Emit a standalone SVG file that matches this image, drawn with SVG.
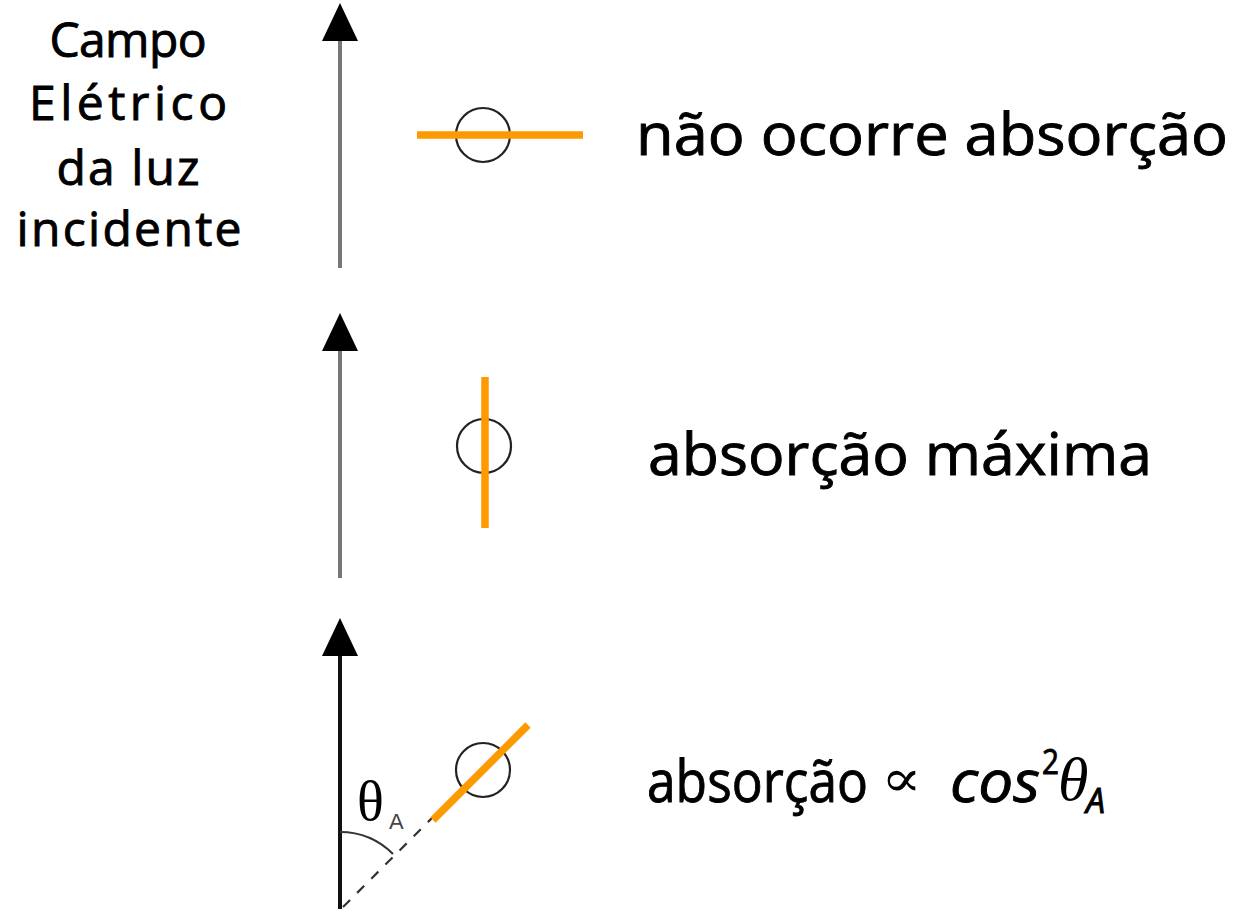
<svg xmlns="http://www.w3.org/2000/svg" xmlns:xlink="http://www.w3.org/1999/xlink" width="1237" height="912" viewBox="0 0 1237 912">
  <style>
    .lbl { font-family: "Open Sans", "DejaVu Sans", sans-serif; fill: #000; stroke: #000; stroke-width: 0.9; }
    .side { font-size: 48px; text-anchor: middle; }
    .big { font-size: 58px; }
    .math { font-family: "Liberation Serif", serif; fill: #000; }
    .shaft { stroke: #777; stroke-width: 4; fill: none; }
    .ring { fill: none; stroke: #222; stroke-width: 2.2; }
    .dipole { stroke: #FF9900; stroke-width: 7.5; stroke-linecap: butt; fill: none; }
    .guide { stroke: #333; stroke-width: 2.2; fill: none; }
  </style>
  <defs>
    <polygon id="head" points="0,0 -18,38 18,38" fill="#000"/>
  </defs>
  <rect width="1237" height="912" fill="#fff"/>

  <!-- caption for the field arrows -->
  <g id="field-caption">
    <text class="lbl side" x="128" y="57" textLength="157">Campo</text>
    <text class="lbl side" x="128" y="120" textLength="198">Elétrico</text>
    <text class="lbl side" x="128" y="185" textLength="143">da luz</text>
    <text class="lbl side" x="129" y="246" textLength="225">incidente</text>
  </g>

  <!-- field arrows -->
  <g id="connectors">
    <line class="shaft" x1="340" y1="268" x2="340" y2="38"/>
    <use xlink:href="#head" x="340" y="3"/>
    <line class="shaft" x1="340" y1="578" x2="340" y2="348"/>
    <use xlink:href="#head" x="340" y="313"/>
    <line x1="340" y1="909" x2="340" y2="653" stroke="#111" stroke-width="4"/>
    <use xlink:href="#head" x="340" y="618"/>
  </g>

  <!-- case 1: dipole perpendicular to the field -->
  <g id="case-perpendicular">
    <circle class="ring" cx="483" cy="135" r="27"/>
    <line class="dipole" x1="417" y1="135" x2="583" y2="135"/>
    <text class="lbl big" x="636" y="155" textLength="592" lengthAdjust="spacingAndGlyphs">não ocorre absorção</text>
  </g>

  <!-- case 2: dipole parallel to the field -->
  <g id="case-parallel">
    <circle class="ring" cx="484" cy="446" r="27"/>
    <line class="dipole" x1="485" y1="377" x2="485" y2="528"/>
    <text class="lbl big" x="648" y="475" textLength="504" lengthAdjust="spacingAndGlyphs">absorção máxima</text>
  </g>

  <!-- case 3: dipole at angle theta_A -->
  <g id="case-angle">
    <line class="guide" x1="343" y1="907" x2="432" y2="818" stroke-dasharray="10 10"/>
    <path class="guide" d="M340 832 A75 75 0 0 1 393 854"/>
    <text class="math" x="357" y="820" font-size="56" fill="#333">θ</text>
    <text x="389" y="829" font-family="'Liberation Sans', sans-serif" font-size="22" fill="#444">A</text>
    <circle class="ring" cx="483" cy="770" r="27"/>
    <line class="dipole" x1="433" y1="820" x2="528" y2="725"/>
    <text class="lbl big" x="647" y="802" textLength="221" lengthAdjust="spacingAndGlyphs">absorção</text>
    <text font-family="'DejaVu Serif', serif" font-size="40" x="0" y="0" transform="translate(881 796) scale(1.5 1.3)">∝</text>
    <text class="lbl big" x="950" y="802" font-style="italic" textLength="90" lengthAdjust="spacingAndGlyphs">cos</text>
    <text class="lbl" x="1042" y="774" font-size="34" textLength="17" lengthAdjust="spacingAndGlyphs">2</text>
    <text class="math" x="1058" y="800" font-size="62" font-style="italic">θ</text>
    <text class="lbl" x="1086" y="813" font-size="34" font-style="italic">A</text>
  </g>
</svg>
